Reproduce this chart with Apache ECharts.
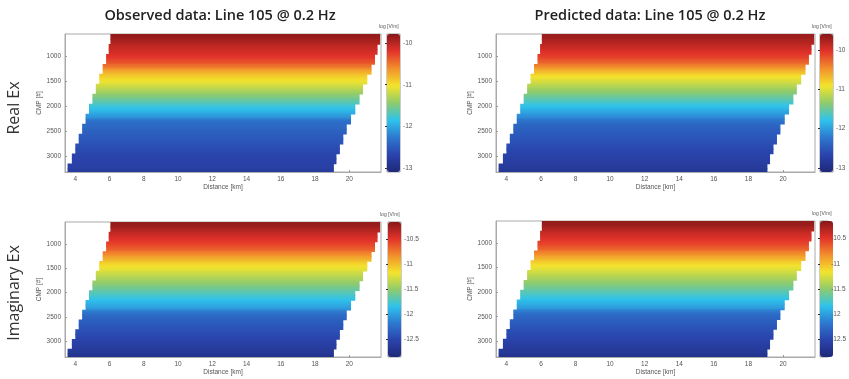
<!DOCTYPE html>
<html>
<head>
<meta charset="utf-8">
<script src="https://cdn.jsdelivr.net/npm/echarts@6/dist/echarts.min.js"></script>
<style>
  html, body { margin: 0; padding: 0; background: #fff; }
  #main { width: 849px; height: 379px; }
</style>
</head>
<body>
<div id="main"></div>
<script>
// tick labels
var distTicks = [4, 6, 8, 10, 12, 14, 16, 18, 20];
var cmpTicks = [1000, 1500, 2000, 2500, 3000];
var realBarTicks = [-13, -12, -11, -10];
var imagBarTicks = [-12.5, -12, -11.5, -11, -10.5];

// CMP rows (centre of each row) and the distance covered by each row [km]
var cmpStep = 100;
var cmpRows = [600, 700, 800, 900, 1000, 1100, 1200, 1300, 1400, 1500, 1600, 1700, 1800, 1900,
               2000, 2100, 2200, 2300, 2400, 2500, 2600, 2700, 2800, 2900, 3000, 3100, 3200, 3300];
var rowStart = [6.05, 6.05, 5.95, 5.95, 5.8, 5.8, 5.6, 5.6, 5.4, 5.4, 5.2, 5.2, 5.0, 5.0,
                4.8, 4.8, 4.6, 4.6, 4.4, 4.4, 4.2, 4.2, 4.0, 4.0, 3.8, 3.8, 3.55, 3.55];
var rowEnd = [21.8, 21.8, 21.65, 21.65, 21.5, 21.5, 21.3, 21.3, 21.05, 21.05, 20.8, 20.8, 20.6, 20.6,
              20.35, 20.35, 20.1, 20.1, 19.85, 19.85, 19.65, 19.65, 19.45, 19.45, 19.25, 19.25, 19.1, 19.1];

// log10 |Ex| per row
var realObs = [-9.85, -9.95, -10.05, -10.12, -10.2, -10.32, -10.5, -10.75, -10.92, -11.05, -11.2, -11.35, -11.5, -11.65,
               -11.8, -11.95, -12.1, -12.35, -12.4, -12.45, -12.5, -12.55, -12.6, -12.65, -12.7, -12.72, -12.75, -12.8];
var realPred = [-9.7, -9.8, -9.9, -10.0, -10.1, -10.25, -10.45, -10.7, -10.9, -11.05, -11.2, -11.35, -11.5, -11.65,
                -11.8, -11.95, -12.1, -12.3, -12.4, -12.45, -12.5, -12.55, -12.6, -12.65, -12.7, -12.75, -12.8, -12.85];
var imagObs = [-10.2, -10.3, -10.4, -10.47, -10.55, -10.65, -10.8, -10.95, -11.1, -11.2, -11.3, -11.4, -11.5, -11.6,
               -11.7, -11.8, -11.9, -12.0, -12.2, -12.3, -12.35, -12.4, -12.45, -12.5, -12.55, -12.6, -12.65, -12.7];
var imagPred = [-10.2, -10.3, -10.4, -10.47, -10.55, -10.65, -10.8, -10.95, -11.1, -11.2, -11.3, -11.4, -11.5, -11.6,
                -11.7, -11.8, -11.9, -12.0, -12.2, -12.3, -12.35, -12.4, -12.45, -12.5, -12.55, -12.6, -12.65, -12.7];

var jet = ['#1e2878', '#2a44ad', '#2d78cf', '#2ec3ec', '#8fcb6c', '#f3e42c', '#f2902c', '#e3322a', '#861818'];

var panels = [
  { values: realObs,  min: -13.1,  max: -9.78,  ticks: realBarTicks, left: 65,  top: 34,  width: 316, height: 138, barLeft: 387 },
  { values: realPred, min: -13.1,  max: -9.6,   ticks: realBarTicks, left: 496, top: 34,  width: 319, height: 138, barLeft: 820 },
  { values: imagObs,  min: -12.85, max: -10.15, ticks: imagBarTicks, left: 65,  top: 222, width: 316, height: 135, barLeft: 388 },
  { values: imagPred, min: -12.85, max: -10.15, ticks: imagBarTicks, left: 496, top: 221, width: 319, height: 136, barLeft: 820 }
];

function colorOf(p, v) {
  var t = Math.max(0, Math.min(1, (v - p.min) / (p.max - p.min)));
  return echarts.color.lerp(t, jet);
}

// each row is shaded smoothly towards its neighbours (like matlab "shading interp")
function renderRow(params, api) {
  var p = panels[params.seriesIndex];
  var k = params.dataIndex, v = p.values;
  var c = api.value(2);
  var p0 = api.coord([api.value(0), c - cmpStep / 2]);
  var p1 = api.coord([api.value(1), c + cmpStep / 2]);
  var cs = params.coordSys;
  var rect = echarts.graphic.clipRectByRect(
    { x: p0[0], y: p0[1], width: p1[0] - p0[0], height: p1[1] - p0[1] + 0.8 },
    { x: cs.x, y: cs.y, width: cs.width, height: cs.height }
  );
  if (!rect) return;
  var vTop = k > 0 ? (v[k - 1] + v[k]) / 2 : v[k];
  var vBot = k < v.length - 1 ? (v[k + 1] + v[k]) / 2 : v[k];
  return { type: 'rect', shape: rect, style: { fill: {
    type: 'linear', x: 0, y: 0, x2: 0, y2: 1,
    colorStops: [{ offset: 0, color: colorOf(p, vTop) }, { offset: 0.5, color: api.visual('color') },
                 { offset: 1, color: colorOf(p, vBot) }] } } };
}

var labelFont = { fontFamily: 'Liberation Sans', fontSize: 6.5, color: '#555' };
var option = { animation: false, grid: [], xAxis: [], yAxis: [], series: [], visualMap: [], graphic: [] };

panels.forEach(function (p, i) {
  var rows = cmpRows.map(function (c, k) { return [rowStart[k], rowEnd[k], c, p.values[k]]; });

  // heat map grid
  option.grid.push({ left: p.left, top: p.top, width: p.width, height: p.height,
    show: true, borderColor: '#aaa', borderWidth: 1, backgroundColor: '#fff' });
  option.xAxis.push({ type: 'value', gridIndex: 2 * i, min: 3.4, max: 21.85,
    name: 'Distance [km]', nameLocation: 'middle', nameGap: 11,
    nameTextStyle: labelFont,
    axisLine: { lineStyle: { color: '#aaa' } },
    axisTick: { inside: true, length: 2, customValues: distTicks, lineStyle: { color: '#999' } },
    axisLabel: Object.assign({ margin: 4, customValues: distTicks }, labelFont),
    splitLine: { show: false } });
  option.yAxis.push({ type: 'value', gridIndex: 2 * i, inverse: true, min: 550, max: 3320,
    name: 'CMP [#]', nameLocation: 'middle', nameGap: 22, nameRotate: 90,
    nameTextStyle: labelFont,
    axisLine: { lineStyle: { color: '#aaa' } },
    axisTick: { inside: true, length: 2, customValues: cmpTicks, lineStyle: { color: '#999' } },
    axisLabel: Object.assign({ margin: 4, customValues: cmpTicks, formatter: function (v) { return String(v); } }, labelFont),
    splitLine: { show: false } });
  option.series.push({ type: 'custom', xAxisIndex: 2 * i, yAxisIndex: 2 * i,
    renderItem: renderRow, data: rows, silent: true });

  // colour bar grid (only carries the tick labels)
  option.grid.push({ left: p.barLeft, top: p.top, width: 13, height: p.height,
    show: true, borderColor: '#999', borderWidth: 1 });
  option.xAxis.push({ type: 'value', gridIndex: 2 * i + 1, min: 0, max: 1, show: false });
  option.yAxis.push({ type: 'value', gridIndex: 2 * i + 1, min: p.min, max: p.max, position: 'right', z: 10,
    axisLine: { show: false },
    axisTick: { show: true, inside: true, length: 2, customValues: p.ticks, lineStyle: { color: '#333' } },
    axisLabel: Object.assign({ margin: 3, customValues: p.ticks }, labelFont),
    splitLine: { show: false } });
  option.visualMap.push({ type: 'continuous', seriesIndex: i, dimension: 3,
    min: p.min, max: p.max, inRange: { color: jet },
    left: p.barLeft, top: p.top, itemWidth: 13, itemHeight: p.height,
    padding: 0, calculable: false, hoverLink: false });

  option.graphic.push({ type: 'text', left: p.barLeft - 8, top: p.top - 10,
    style: { text: 'log [V/m]', font: '5px Liberation Sans', fill: '#555' } });
});

var titleFont = '600 14.5px "Open Sans"';
option.graphic.push(
  { type: 'text', x: 220, y: 16, style: { text: 'Observed data: Line 105 @ 0.2 Hz', font: titleFont, fill: '#222', align: 'center', verticalAlign: 'middle' } },
  { type: 'text', x: 650, y: 16, style: { text: 'Predicted data: Line 105 @ 0.2 Hz', font: titleFont, fill: '#222', align: 'center', verticalAlign: 'middle' } },
  { type: 'text', x: 14, y: 108, rotation: Math.PI / 2, style: { text: 'Real Ex', font: '500 16px "Open Sans"', fill: '#333', align: 'center', verticalAlign: 'middle' } },
  { type: 'text', x: 14, y: 293, rotation: Math.PI / 2, style: { text: 'Imaginary Ex', font: '500 16px "Open Sans"', fill: '#333', align: 'center', verticalAlign: 'middle' } }
);

var chart = echarts.init(document.getElementById('main'));
chart.setOption(option);
</script>
</body>
</html>
